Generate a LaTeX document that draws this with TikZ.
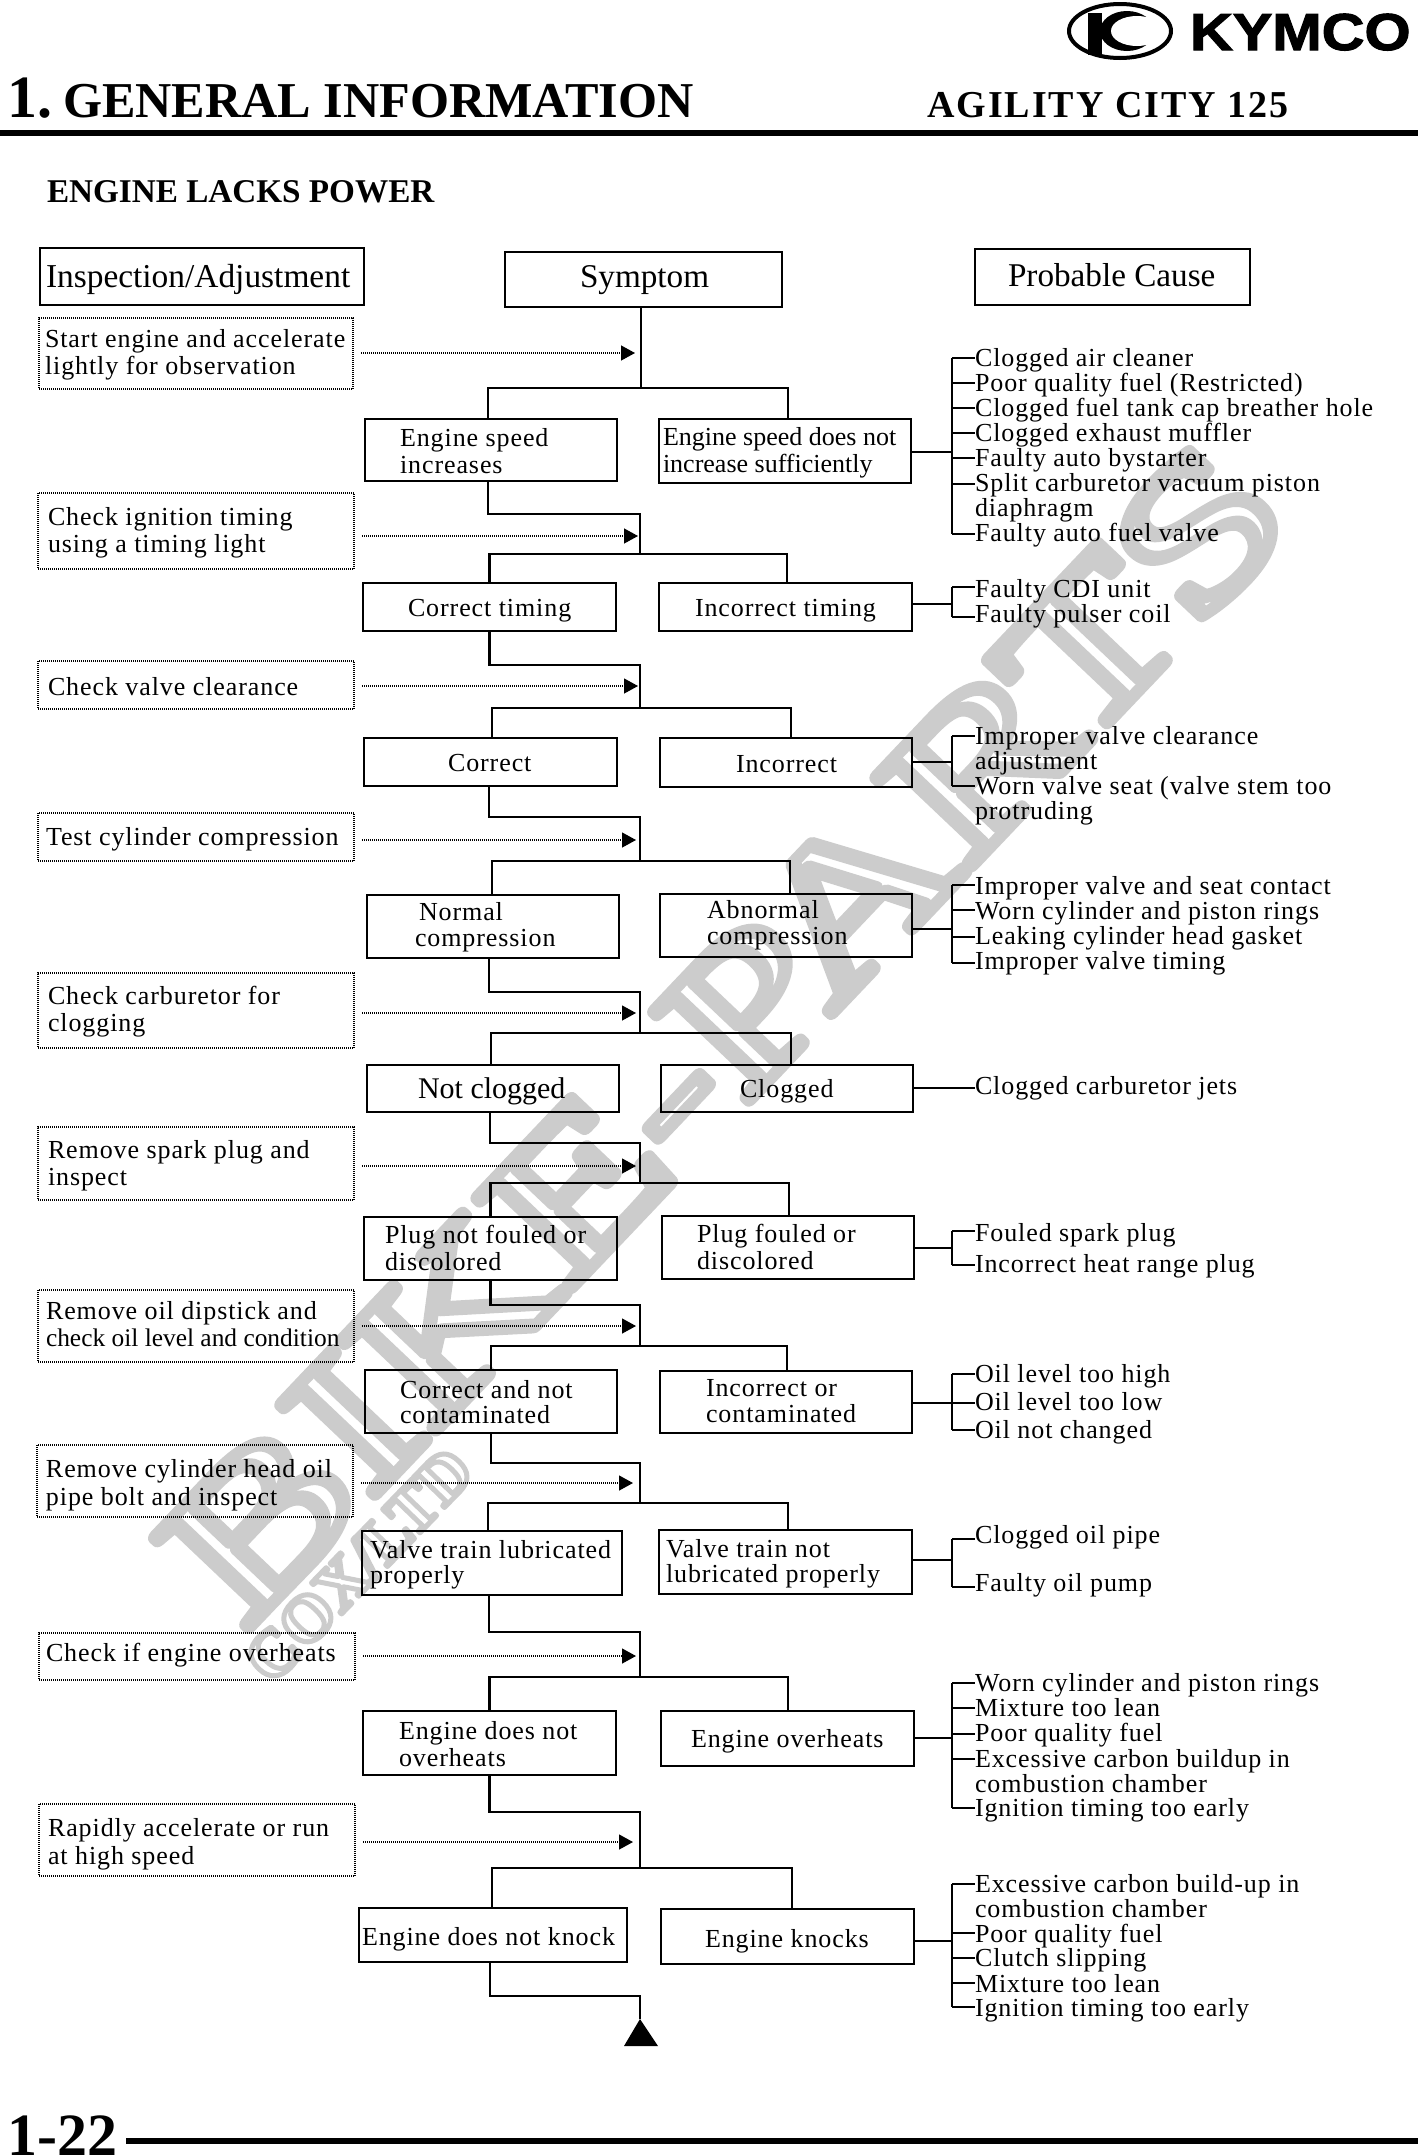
\documentclass[tikz,border=0pt]{standalone}
\usepackage{fontspec}
\usetikzlibrary{arrows.meta}
\setmainfont{Liberation Serif}
\newfontfamily\bodyf{Liberation Serif}[LetterSpace=3.5]
\newfontfamily\tightf{Liberation Serif}
\newfontfamily\headf{Liberation Serif}[LetterSpace=5.3]
\newfontfamily\logof{Liberation Sans}[BoldFeatures={FakeBold=2}]
\tikzset{
  boxn/.style={draw=black,line width=2.6pt,fill=none,inner sep=0pt,outer sep=0pt},
  headn/.style={draw=black,line width=2.6pt,fill=none,inner sep=0pt,outer sep=0pt},
  dotn/.style={draw=black,line width=1.3pt,dash pattern=on 1pt off 1pt,fill=none,inner sep=0pt,outer sep=0pt},
  cause/.style={anchor=west,inner sep=0pt,outer sep=0pt},
  conn/.style={draw=black,line width=2.2pt},
  dotline/.style={draw=black,line width=1.3pt,dash pattern=on 1pt off 1pt,-{Triangle[length=14pt,width=15pt]}},
  txt/.style={anchor=base west,inner sep=0pt,outer sep=0pt},
  curbox/.style={boxn}
}
\newcommand\placebox[9]{%
  \pgfmathsetmacro\bW{#4-#2}\pgfmathsetmacro\bH{#5-#3}%
  \pgfmathsetmacro\bCX{(#2+#4)/2}\pgfmathsetmacro\bCY{(#3+#5)/2}%
  \pgfmathsetmacro\bPAD{#6-#2}\pgfmathsetmacro\bRAISE{\bCY-#7}%
  \node[curbox,minimum width=\bW pt,minimum height=\bH pt] (#1) at (\bCX,\bCY)
   {\makebox[\bW pt][l]{\hspace*{\bPAD pt}\smash{\raisebox{\bRAISE pt}{\bodyf\fontsize{26}{#8}\selectfont\begin{tabular}[t]{@{}l@{}}#9\end{tabular}}}}};%
}
\newcommand\bx{\tikzset{curbox/.style={boxn}}\placebox}
\newcommand\dx{\tikzset{curbox/.style={dotn}}\placebox}
\newcommand\hx{\tikzset{curbox/.style={headn}}\placebox}
\newcommand\cz[4]{%
  \pgfmathsetmacro\cRAISE{#2-#3}%
  \node[cause] (#1) at (975,#2) {\smash{\raisebox{\cRAISE pt}{\bodyf\fontsize{26}{25}\selectfont\begin{tabular}[t]{@{}l@{}}#4\end{tabular}}}};%
  \draw[conn] (#1.west -| bus) -- (#1.west);%
}
\newcommand\busline[4]{% box, mid y, top cause, bottom cause
  \coordinate (#1m) at (952,#2);%
  \draw[conn] (#1.east |- #1m) -- (#1m);%
  \draw[conn] (#3.west -| bus) -- (#4.west -| bus);%
}
\newcommand\flowstep[9]{%
  \coordinate (#6t) at (#4,#3);\coordinate (#6b) at (#4,#5);%
  \draw[conn] ([xshift=#2pt]#1.south) |- (#6t) -- (#6b);%
  \draw[conn] ([xshift=#7pt]#6.north) |- (#6b) -| ([xshift=#9pt]#8.north);%
}
\newcommand\probe[3]{% dotted box, y, end x
  \coordinate (#1a) at (#3,#2);%
  \draw[dotline,shorten <=8pt] (#1.east |- #1a) -- (#1a);%
}
\begin{document}
\begin{tikzpicture}[x=1pt,y=-1pt]
\useasboundingbox (0,0) rectangle (1418,2155);
\fill[white] (0,0) rectangle (1418,2155);
\coordinate (bus) at (952,0);
% watermark
\node[txt,rotate=46.5,xscale=1.36] (wm) at (245,1632) {\fontsize{200}{200}\selectfont\special{pdf:code 1 Tr 12.5 w 1 j 1 J 0.8 G}BIKE-PARTS\special{pdf:code 0 Tr 1 w 0 G}};
\node[txt,rotate=46] (wm2) at (272,1686) {\fontsize{66}{66}\bfseries\selectfont\special{pdf:code 1 Tr 5 w 1 j 1 J 0.8 G}COX/LTD\special{pdf:code 0 Tr 1 w 0 G}};
% logo
\coordinate (lg) at (1120,31);
\draw[line width=4pt] (lg) ellipse [x radius=51,y radius=27];
\fill (1127,31) ellipse [x radius=27,y radius=20];
\fill[white] (1137,31) ellipse [x radius=26,y radius=15];
\fill (1088,13) rectangle (1102,55);
\node[txt,xscale=1.14] (kymco) at (1190,50) {\logof\fontsize{52}{52}\bfseries\selectfont KYMCO};
% title
\node[txt] (t1n) at (7,117) {\fontsize{60}{60}\bfseries\selectfont 1.};
\node[txt] (t1) at (63,117) {\fontsize{50.2}{50.2}\bfseries\selectfont GENERAL INFORMATION};
\node[txt] (t2) at (927,117) {\headf\fontsize{38}{38}\bfseries\selectfont AGILITY CITY 125};
\draw[line width=6pt] (0,133) -- (1418,133);
\node[txt] (t3) at (47,202) {\fontsize{33.2}{33.2}\bfseries\selectfont ENGINE LACKS POWER};
% headers
\hx{hi}{40}{248}{364}{305}{46}{287}{33}{\tightf\fontsize{33.4}{33}\selectfont Inspection/Adjustment}
\hx{sym}{505}{252}{782}{307}{580}{287}{33}{\tightf\fontsize{33.2}{33}\selectfont Symptom}
\hx{hp}{975}{249}{1250}{305}{1008}{286}{33}{\tightf\fontsize{33.2}{33}\selectfont Probable Cause}
% inspection boxes
\dx{d1}{39}{318}{353}{389}{45}{347}{27}{Start engine and accelerate\\lightly for observation}
\dx{d2}{38}{493}{354}{569}{48}{525}{27}{Check ignition timing\\using a timing light}
\dx{d3}{38}{661}{354}{709}{48}{695}{27}{Check valve clearance}
\dx{d4}{38}{813}{354}{861}{46}{845}{27}{Test cylinder compression}
\dx{d5}{38}{973}{354}{1048}{48}{1004}{27}{Check carburetor for\\clogging}
\dx{d6}{38}{1127}{354}{1200}{48}{1158}{27}{Remove spark plug and\\inspect}
\dx{d7}{38}{1290}{354}{1362}{46}{1319}{27}{Remove oil dipstick and\\{\tightf\fontsize{25.4}{27}\selectfont check oil level and condition}}
\dx{d8}{37}{1445}{353}{1517}{46}{1477}{28}{Remove cylinder head oil\\pipe bolt and inspect}
\dx{d9}{39}{1633}{355}{1680}{46}{1661}{27}{Check if engine overheats}
\dx{d10}{39}{1804}{355}{1876}{48}{1836}{28}{Rapidly accelerate or run\\at high speed}
% symptom boxes
\bx{e1}{365}{419}{617}{481}{400}{446}{27}{Engine speed\\increases}
\bx{e2}{659}{419}{911}{483}{663}{445}{27}{\tightf Engine speed does not\\\tightf increase sufficiently}
\bx{a1}{363}{583}{616}{631}{408}{616}{26}{Correct timing}
\bx{a2}{659}{583}{912}{631}{695}{616}{26}{Incorrect timing}
\bx{c1}{364}{738}{617}{786}{448}{771}{26}{Correct}
\bx{c2}{660}{738}{912}{787}{736}{772}{26}{Incorrect}
\bx{n1}{367}{895}{619}{958}{415}{920}{26}{\hspace*{4pt}Normal\\compression}
\bx{n2}{660}{894}{912}{957}{707}{918}{26}{Abnormal\\compression}
\bx{g1}{367}{1065}{619}{1112}{418}{1098}{30}{\tightf\fontsize{30}{30}\selectfont Not clogged}
\bx{g2}{661}{1065}{913}{1112}{740}{1097}{26}{Clogged}
\bx{p1}{364}{1217}{617}{1280}{385}{1243}{27}{Plug not fouled or\\discolored}
\bx{p2}{662}{1216}{914}{1279}{697}{1242}{27}{Plug fouled or\\discolored}
\bx{o1}{365}{1370}{617}{1433}{400}{1398}{25}{Correct and not\\contaminated}
\bx{o2}{660}{1371}{912}{1433}{706}{1396}{26}{Incorrect or\\contaminated}
\bx{v1}{362}{1531}{622}{1595}{370}{1558}{25}{Valve train lubricated\\properly}
\bx{v2}{659}{1530}{912}{1594}{666}{1557}{25}{Valve train not\\lubricated properly}
\bx{h1}{363}{1711}{616}{1775}{399}{1739}{27}{Engine does not\\overheats}
\bx{h2}{661}{1711}{914}{1766}{691}{1747}{26}{Engine overheats}
\bx{k1}{359}{1908}{627}{1962}{362}{1945}{26}{Engine does not knock}
\bx{k2}{661}{1909}{914}{1964}{705}{1947}{26}{Engine knocks}
% flow
\coordinate (s1t) at (641,388);
\draw[conn] ([xshift=-2.5pt]sym.south) -- (s1t);
\draw[conn] ([xshift=-3pt]e1.north) |- (s1t) -| ([xshift=3pt]e2.north);
\flowstep{e1}{-3}{514}{640}{554}{a1}{0}{a2}{1.5}
\flowstep{a1}{0}{665}{640}{708}{c1}{1.5}{c2}{5}
\flowstep{c1}{-1.5}{817}{640}{861}{n1}{-1}{n2}{4}
\flowstep{n1}{-4}{992}{640}{1033}{g1}{-2}{g2}{4}
\flowstep{g1}{-3}{1143}{640}{1183}{p1}{0}{p2}{1}
\flowstep{p1}{0}{1305}{640}{1346}{o1}{0}{o2}{1}
\flowstep{o1}{0}{1463}{640}{1503}{v1}{-4}{v2}{2.5}
\flowstep{v1}{-3}{1632}{640}{1677}{h1}{0}{h2}{0.5}
\flowstep{h1}{0}{1812}{640}{1868}{k1}{-1}{k2}{4.5}
\coordinate (endt) at (640,1996);
\coordinate (tip) at (640,2019);
\draw[conn] ([xshift=-3pt]k1.south) |- (endt) -- (tip);
\fill (tip) -- (658,2046) -- (624,2046) -- cycle;
% probes
\probe{d1}{353}{635}
\probe{d2}{536}{638}
\probe{d3}{686}{638}
\probe{d4}{840}{636}
\probe{d5}{1013}{636}
\probe{d6}{1166}{636}
\probe{d7}{1326}{636}
\probe{d8}{1483}{633}
\probe{d9}{1656}{636}
\probe{d10}{1842}{633}
% causes
\cz{q1}{358}{366}{Clogged air cleaner}
\cz{q2}{383}{391}{Poor quality fuel (Restricted)}
\cz{q3}{408}{416}{Clogged fuel tank cap breather hole}
\cz{q4}{433}{441}{Clogged exhaust muffler}
\cz{q5}{458}{466}{Faulty auto bystarter}
\cz{q6}{484}{491}{Split carburetor vacuum piston\\diaphragm}
\cz{q7}{534}{541}{Faulty auto fuel valve}
\busline{e2}{452}{q1}{q7}
\cz{r1}{587}{597}{Faulty CDI unit}
\cz{r2}{617}{622}{Faulty pulser coil}
\busline{a2}{604}{r1}{r2}
\cz{s1}{736}{744}{Improper valve clearance\\adjustment}
\cz{s2}{786}{794}{Worn valve seat (valve stem too\\protruding}
\busline{c2}{762}{s1}{s2}
\cz{u1}{885}{894}{Improper valve and seat contact}
\cz{u2}{910}{919}{Worn cylinder and piston rings}
\cz{u3}{937}{944}{Leaking cylinder head gasket}
\cz{u4}{963}{969}{Improper valve timing}
\busline{n2}{929}{u1}{u4}
\node[cause] (w1) at (975,1088) {\smash{\raisebox{-6pt}{\bodyf\fontsize{26}{25}\selectfont Clogged carburetor jets}}};
\draw[conn] (g2.east |- w1.west) -- (w1.west);
\cz{x1}{1231}{1241}{Fouled spark plug}
\cz{x2}{1265}{1272}{Incorrect heat range plug}
\busline{p2}{1248}{x1}{x2}
\cz{y1}{1374}{1382}{Oil level too high}
\cz{y2}{1403}{1410}{Oil level too low}
\cz{y3}{1430}{1438}{Oil not changed}
\busline{o2}{1403}{y1}{y3}
\cz{z1}{1539}{1543}{Clogged oil pipe}
\cz{z2}{1587}{1591}{Faulty oil pump}
\busline{v2}{1560}{z1}{z2}
\cz{aa1}{1683}{1691}{Worn cylinder and piston rings}
\cz{aa2}{1708}{1716}{Mixture too lean}
\cz{aa3}{1734}{1741}{Poor quality fuel}
\cz{aa4}{1759}{1767}{Excessive carbon buildup in\\combustion chamber}
\cz{aa5}{1808}{1816}{Ignition timing too early}
\busline{h2}{1738}{aa1}{aa5}
\cz{bb1}{1884}{1892}{Excessive carbon build-up in\\combustion chamber}
\cz{bb2}{1933}{1942}{Poor quality fuel}
\cz{bb3}{1958}{1966}{Clutch slipping}
\cz{bb4}{1983}{1992}{Mixture too lean}
\cz{bb5}{2007}{2016}{Ignition timing too early}
\busline{k2}{1941}{bb1}{bb5}
% footer
\node[txt] (f1) at (8,2155) {\fontsize{60}{60}\bfseries\selectfont 1-22};
\draw[line width=6pt] (126,2141) -- (1418,2141);
\end{tikzpicture}
\end{document}
